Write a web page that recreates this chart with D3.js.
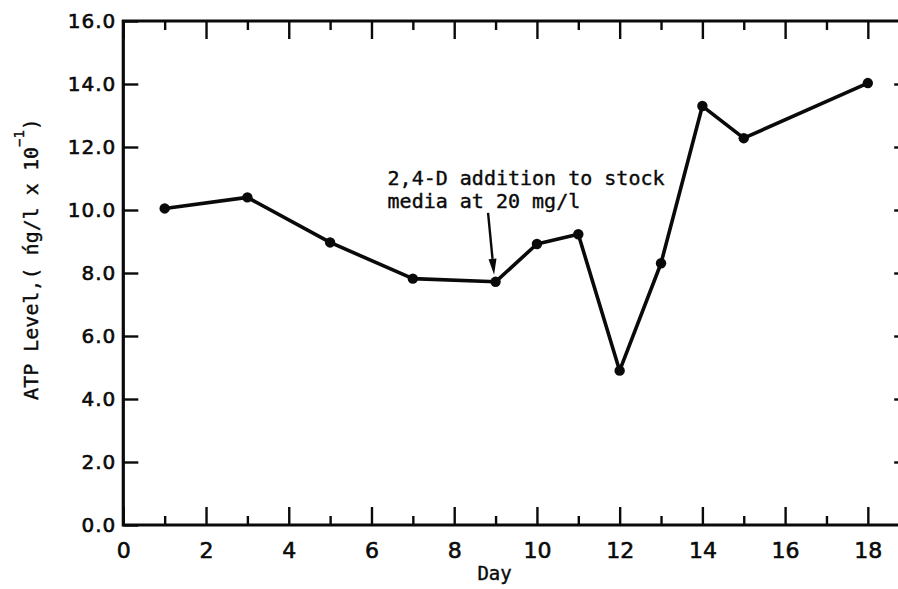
<!DOCTYPE html>
<html>
<head>
<meta charset="utf-8">
<script src="https://cdn.jsdelivr.net/npm/d3@7"></script>
<style>
  html, body { margin: 0; padding: 0; background: #fff; overflow: hidden; }
  svg { display: block; overflow: hidden; }
</style>
</head>
<body>
<svg id="chart" width="898" height="589"></svg>
<script>
// ATP level over the culture period
const days = [1, 3, 5, 7, 9, 10, 11, 12, 13, 14, 15, 18];
const atpLevel = [10.05, 10.40, 8.97, 7.82, 7.72, 8.92, 9.23, 4.90, 8.31, 13.30, 12.28, 14.03];

// axis ticks
const xMajorTicks = [0, 2, 4, 6, 8, 10, 12, 14, 16, 18];
const xMinorTicks = [1, 3, 5, 7, 9, 11, 13, 15, 17];
const yTicks = [0, 2, 4, 6, 8, 10, 12, 14, 16];

// annotation
const noteDay = 9;
const noteLines = ["2,4-D addition to stock", "media at 20 mg/l"];

const svg = d3.select("#chart");

const x = d3.scaleLinear().domain([0, 19]).range([123.3, 909.2]);
const y = d3.scaleLinear().domain([0, 16]).range([525, 21]);

const ink = "#0a0a0a";
const labelFont = "DejaVu Sans, sans-serif";
const monoFont = "DejaVu Sans Mono, monospace";

// inward-pointing ticks on all four sides
function styleAxis(g) {
  g.select(".domain").remove();
  g.selectAll(".tick line").attr("stroke", ink).attr("stroke-width", 2.4);
}

svg.append("g")
  .attr("transform", `translate(0,${y(0)})`)
  .call(d3.axisBottom(x).tickValues(xMajorTicks).tickSize(-18).tickPadding(17)
    .tickFormat(d3.format("d")))
  .call(styleAxis)
  .call(g => g.selectAll("text")
    .attr("font-family", labelFont).attr("font-size", 22).attr("fill", ink)
    .attr("stroke", ink).attr("stroke-width", 0.6));

svg.append("g")
  .attr("transform", `translate(0,${y(0)})`)
  .call(d3.axisBottom(x).tickValues(xMinorTicks).tickSize(-9).tickFormat(""))
  .call(styleAxis);

svg.append("g")
  .attr("transform", `translate(0,${y(16)})`)
  .call(d3.axisTop(x).tickValues(xMajorTicks).tickSize(-18).tickFormat(""))
  .call(styleAxis);

svg.append("g")
  .attr("transform", `translate(0,${y(16)})`)
  .call(d3.axisTop(x).tickValues(xMinorTicks).tickSize(-9).tickFormat(""))
  .call(styleAxis);

svg.append("g")
  .attr("transform", `translate(${x(0)},0)`)
  .call(d3.axisLeft(y).tickValues(yTicks).tickSize(-15).tickPadding(7)
    .tickFormat(d3.format(".1f")))
  .call(styleAxis)
  .call(g => g.selectAll("text")
    .attr("font-family", labelFont).attr("font-size", 20)
    .attr("letter-spacing", 1).attr("fill", ink)
    .attr("stroke", ink).attr("stroke-width", 0.6));

svg.append("g")
  .attr("transform", `translate(${x(19)},0)`)
  .call(d3.axisRight(y).tickValues(yTicks.slice(1, -1)).tickSize(-15).tickFormat(""))
  .call(styleAxis);

// plot frame: left, bottom and top edges (right edge lies past the page)
svg.append("path")
  .attr("d", d3.line()([[x(19), y(16)], [x(0), y(16)], [x(0), y(0)], [x(19), y(0)]]))
  .attr("fill", "none").attr("stroke", ink).attr("stroke-width", 3.2)
  .attr("stroke-linejoin", "miter");

// data line and markers
const pts = days.map((d, i) => [d, atpLevel[i]]);

svg.append("path")
  .datum(pts)
  .attr("fill", "none")
  .attr("stroke", ink)
  .attr("stroke-width", 3.6)
  .attr("stroke-linejoin", "round")
  .attr("d", d3.line().x(d => x(d[0])).y(d => y(d[1])));

svg.append("g")
  .selectAll("circle")
  .data(pts)
  .join("circle")
  .attr("cx", d => x(d[0]))
  .attr("cy", d => y(d[1]))
  .attr("r", 5.2)
  .attr("fill", ink);

// annotation with arrow pointing at the dosing day
const px = x(noteDay), py = y(atpLevel[days.indexOf(noteDay)]);

const note = svg.append("text")
  .attr("font-family", monoFont)
  .attr("font-size", 20)
  .attr("fill", ink)
  .attr("stroke", ink).attr("stroke-width", 0.4);
noteLines.forEach((t, i) => {
  note.append("tspan")
    .attr("x", px - 108)
    .attr("y", py - 97 + i * 23)
    .text(t);
});

const tail = [px - 7.5, py - 69];
const tip = [px - 1.5, py - 7];
const ang = Math.atan2(tip[1] - tail[1], tip[0] - tail[0]);
const headLen = 16, headHalf = 4;
const base = [tip[0] - headLen * Math.cos(ang), tip[1] - headLen * Math.sin(ang)];
svg.append("line")
  .attr("x1", tail[0]).attr("y1", tail[1])
  .attr("x2", base[0]).attr("y2", base[1])
  .attr("stroke", ink).attr("stroke-width", 2.4);
svg.append("path")
  .attr("d", d3.line()([
    tip,
    [base[0] + headHalf * Math.sin(ang), base[1] - headHalf * Math.cos(ang)],
    [base[0] - headHalf * Math.sin(ang), base[1] + headHalf * Math.cos(ang)]
  ]) + "Z")
  .attr("fill", ink);

// axis titles
svg.append("text")
  .attr("x", (x(0) + x(18)) / 2 - 1)
  .attr("y", 580)
  .attr("text-anchor", "middle")
  .attr("font-family", monoFont)
  .attr("font-size", 19)
  .attr("fill", ink)
  .attr("stroke", ink).attr("stroke-width", 0.4)
  .text("Day");

const yTitle = svg.append("text")
  .attr("transform", "translate(38,259) rotate(-90)")
  .attr("text-anchor", "middle")
  .attr("font-family", monoFont)
  .attr("font-size", 20)
  .attr("fill", ink)
  .attr("stroke", ink).attr("stroke-width", 0.4);
yTitle.append("tspan").text("ATP Level,( ńg/l x 10");
yTitle.append("tspan").attr("font-size", 14).attr("dy", -14).text("−1");
yTitle.append("tspan").attr("dy", 14).text(")");
</script>
</body>
</html>
